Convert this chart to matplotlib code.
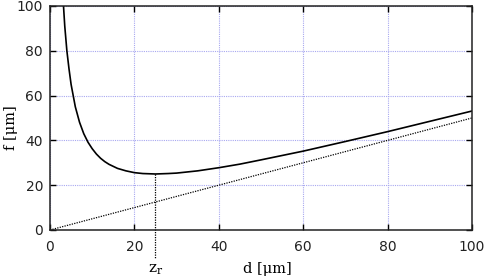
import matplotlib.pyplot as plt

plt.rcParams['mathtext.fontset'] = 'dejavuserif'

# focal length curve (d in um, f in um)
d_curve = [3.2, 3.5, 4, 4.5, 5, 6, 7, 8, 9, 10, 11, 12, 13, 14, 16, 18, 20, 22, 25,
           28, 30, 35, 40, 45, 50, 60, 70, 80, 90, 100]
f_curve = [100, 91, 80, 72, 65, 55, 48.1, 43, 39.2, 36.3, 33.9, 32, 30.5, 29.3, 27.5,
           26.4, 25.6, 25.2, 25.0, 25.2, 25.4, 26.4, 27.8, 29.4, 31.3, 35.2, 39.5,
           43.9, 48.5, 53.1]

# asymptote line f = d/2
d_line = [0, 100]
f_line = [0, 50]

zr = 25
zr_f = 25
xticks = [0, 20, 40, 60, 80, 100]
yticks = [0, 20, 40, 60, 80, 100]

fig = plt.figure(figsize=(4.84, 2.77), dpi=100)
ax = fig.add_axes([0.1033, 0.1697, 0.8717, 0.8087])

ax.plot(d_curve, f_curve, color="black", lw=1.2)
ax.plot(d_line, f_line, color="black", lw=0.9, ls=(0, (1, 1)))

# marker for z_r
ax.plot([zr, zr], [zr_f, -12.5], color="black", lw=0.9, ls=(0, (1, 1)), clip_on=False)
ax.text(zr, -14.5, r"$\mathrm{z_r}$", ha="center", va="top", fontsize=11)

ax.set_xlim(0, 100)
ax.set_ylim(0, 100)
ax.set_xticks(xticks)
ax.set_yticks(yticks)
ax.tick_params(direction="in", length=4, width=1, labelsize=10, labelcolor="#222222",
               top=True, right=True, pad=7)
ax.tick_params(axis="y", pad=5)
ax.grid(True, color="#a8a8f0", ls=(0, (1, 1)), lw=0.8)

for s in ax.spines.values():
    s.set_color("#222222")
    s.set_linewidth(1.1)

ax.text(51.5, -14.5, "d [μm]", ha="center", va="top", fontsize=10.5,
        family="DejaVu Serif")
fig.text(0.022, 0.54, "f [μm]", rotation=90, ha="center", va="center",
         fontsize=10.5, family="DejaVu Serif")

plt.savefig("out.png", dpi=100)
